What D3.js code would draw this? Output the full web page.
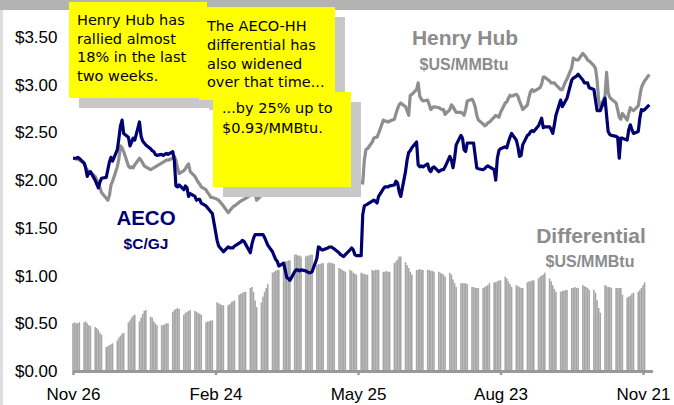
<!DOCTYPE html>
<html>
<head>
<meta charset="utf-8">
<script src="https://cdn.jsdelivr.net/npm/d3@7"></script>
<style>
  body { margin: 0; background: #fff; }
  svg { display: block; }
  .axis text { font-family: "Liberation Sans", Arial, sans-serif; font-size: 17px; fill: #000; }
  .label { font-family: "Liberation Sans", Arial, sans-serif; font-weight: bold; text-anchor: middle; }
  .note text { font-family: "DejaVu Sans", sans-serif; font-size: 14.5px; fill: #000; }
</style>
</head>
<body>
<div id="chart"></div>
<script>
// x ticks (days from the first date) and their labels
const tickDays   = [0, 90, 180, 270, 360];
const tickLabels = ['Nov 26', 'Feb 24', 'May 25', 'Aug 23', 'Nov 21'];
const yTicks     = [0, 0.5, 1, 1.5, 2, 2.5, 3, 3.5];

// AECO, $C/GJ - one row per trading week (Mon..Fri)
const aeco = [
  2.23, 2.23, 2.23, 2.24, 2.23,
  2.18, 2.13, 2.04, 2.08, 2.09,
  2.00, 1.96, 1.92, 1.98, 2.02,
  2.03, 2.11, 2.19, 2.24, 2.20,
  2.32, 2.44, 2.57, 2.63, 2.49,
  2.45, 2.36, 2.40, 2.44, 2.42,
  2.61, 2.46, 2.41, 2.39, 2.37,
  2.33, 2.31, 2.30, 2.27, 2.26,
  2.27, 2.26, 2.27, 2.28, 2.27,
  2.30, 2.21, 1.94, 1.93, 1.95,
  1.90, 1.94, 1.92, 1.83, 1.86,
  1.83, 1.79, 1.80, 1.80, 1.76,
  1.73, 1.71, 1.69, 1.67, 1.65,
  1.37, 1.31, 1.29, 1.27, 1.25,
  1.30, 1.29, 1.29, 1.29, 1.31,
  1.34, 1.35, 1.37, 1.36, 1.33,
  1.24, 1.33, 1.39, 1.43, 1.43,
  1.43, 1.43, 1.40, 1.36, 1.32,
  1.25, 1.21, 1.17, 1.15, 1.10,
  1.13, 1.06, 0.98, 0.97, 0.95,
  1.04, 1.06, 1.06, 1.05, 1.06,
  1.05, 1.04, 1.03, 1.03, 1.04,
  1.18, 1.30, 1.29, 1.27, 1.27,
  1.29, 1.30, 1.30, 1.29, 1.28,
  1.24, 1.22, 1.21, 1.20, 1.22,
  1.27, 1.29, 1.27, 1.22, 1.21,
  1.21, 1.64, 1.73, 1.74, 1.75,
  1.78, 1.79, 1.78, 1.76, 1.83,
  1.91, 1.93, 1.93, 1.93, 1.94,
  1.95, 1.99, 1.97, 1.88, 1.83,
  2.09, 2.21, 2.29, 2.31, 2.34,
  2.40, 2.16, 2.14, 2.15, 2.14,
  2.17, 2.11, 2.09, 2.13, 2.14,
  2.09, 2.10, 2.11, 2.11, 2.14,
  2.25, 2.21, 2.13, 2.23, 2.37,
  2.47, 2.44, 2.32, 2.30, 2.39,
  2.39, 2.39, 2.26, 2.13, 2.12,
  2.11, 2.12, 2.14, 2.15, 2.14,
  2.11, 2.00, 2.23, 2.31, 2.33,
  2.35, 2.34, 2.40, 2.45, 2.49,
  2.42, 2.35, 2.25, 2.26, 2.37,
  2.47, 2.48, 2.51, 2.52, 2.51,
  2.57, 2.61, 2.65, 2.55, 2.56,
  2.56, 2.53, 2.49, 2.58, 2.68,
  2.84, 2.77, 2.80, 2.83, 2.86,
  3.05, 3.07, 3.08, 3.09, 3.11,
  3.05, 3.02, 3.02, 3.02, 2.97,
  2.95, 2.84, 2.73, 2.73, 2.73,
  2.86, 2.68, 2.51, 2.48, 2.47,
  2.46, 2.45, 2.23, 2.44, 2.44,
  2.42, 2.53, 2.58, 2.53, 2.49,
  2.51, 2.65, 2.74, 2.73, 2.74,
  2.79
];

// Henry Hub, $US/MMBtu
const henryHub = [
  2.23, 2.23, 2.22, 2.22, 2.21,
  2.18, 2.13, 2.11, 2.09, 2.08,
  2.04, 2.00, 1.97, 1.92, 1.87,
  1.81, 1.79, 1.84, 1.95, 1.99,
  2.14, 2.23, 2.36, 2.34, 2.30,
  2.15, 2.13, 2.14, 2.13, 2.16,
  2.23, 2.21, 2.18, 2.15, 2.14,
  2.11, 2.12, 2.13, 2.14, 2.15,
  2.18, 2.19, 2.20, 2.21, 2.21,
  2.23, 2.25, 2.21, 2.13, 2.07,
  2.10, 2.12, 2.15, 2.17, 2.09,
  2.04, 2.01, 1.98, 1.96, 1.93,
  1.90, 1.87, 1.85, 1.82, 1.82,
  1.80, 1.79, 1.77, 1.75, 1.73,
  1.66, 1.68, 1.70, 1.72, 1.73,
  1.77, 1.78, 1.79, 1.80, 1.81,
  1.84, 1.92, 1.91, 1.86, 1.79,
  1.84, 1.90, 1.92, 1.93, 1.94,
  2.01, 1.98, 1.96, 1.96, 1.92,
  2.02, 1.98, 1.91, 1.92, 1.90,
  2.04, 2.04, 2.03, 2.03, 2.02,
  2.01, 2.02, 2.02, 2.03, 2.03,
  2.03, 2.13, 2.13, 2.12, 2.12,
  2.14, 2.14, 2.14, 2.14, 2.13,
  2.05, 2.02, 2.00, 1.99, 1.99,
  2.05, 2.06, 2.02, 1.97, 1.95,
  1.98, 1.97, 2.21, 2.32, 2.33,
  2.40, 2.44, 2.45, 2.45, 2.49,
  2.63, 2.62, 2.62, 2.61, 2.62,
  2.64, 2.70, 2.75, 2.79, 2.81,
  2.77, 2.73, 2.68, 2.89, 2.90,
  2.95, 3.02, 2.88, 2.85, 2.83,
  2.84, 2.79, 2.74, 2.76, 2.77,
  2.76, 2.75, 2.74, 2.74, 2.69,
  2.74, 2.79, 2.77, 2.74, 2.71,
  2.71, 2.70, 2.68, 2.74, 2.83,
  2.85, 2.82, 2.77, 2.68, 2.63,
  2.59, 2.57, 2.58, 2.60, 2.61,
  2.66, 2.68, 2.67, 2.66, 2.71,
  2.81, 2.82, 2.86, 2.89, 2.88,
  2.90, 2.88, 2.83, 2.79, 2.74,
  2.79, 2.87, 2.93, 2.95, 2.93,
  2.96, 2.97, 3.01, 3.08, 3.08,
  3.04, 3.02, 3.02, 3.02, 3.00,
  2.95, 2.95, 2.99, 3.03, 3.06,
  3.18, 3.28, 3.27, 3.26, 3.26,
  3.33, 3.31, 3.29, 3.26, 3.25,
  3.20, 3.17, 3.05, 2.84, 2.76,
  2.88, 3.13, 2.92, 2.87, 2.85,
  2.81, 2.74, 2.66, 2.64, 2.70,
  2.63, 2.70, 2.76, 2.74, 2.73,
  2.78, 2.88, 2.97, 3.01, 3.04,
  3.11
];

// AECO-HH differential, $US/MMBtu
const differential = [
  0.50, 0.51, 0.50, 0.50, 0.51,
  0.51, 0.52, 0.50, 0.48, 0.47,
  0.46, 0.45, 0.43, 0.40, 0.38,
  0.25, 0.26, 0.27, 0.28, 0.29,
  0.32, 0.35, 0.37, 0.39, 0.40,
  0.51, 0.53, 0.56, 0.58, 0.59,
  0.52, 0.56, 0.60, 0.63, 0.64,
  0.57, 0.56, 0.52, 0.50, 0.48,
  0.48, 0.48, 0.49, 0.50, 0.50,
  0.62, 0.64, 0.65, 0.66, 0.65,
  0.59, 0.61, 0.62, 0.63, 0.64,
  0.63, 0.62, 0.61, 0.60, 0.59,
  0.51, 0.52, 0.52, 0.53, 0.53,
  0.72, 0.71, 0.70, 0.69, 0.69,
  0.69, 0.70, 0.72, 0.73, 0.74,
  0.80, 0.81, 0.82, 0.83, 0.83,
  0.87, 0.88, 0.83, 0.74, 0.67,
  0.72, 0.78, 0.83, 0.87, 0.91,
  1.03, 1.04, 1.05, 1.06, 1.06,
  1.14, 1.15, 1.15, 1.16, 1.16,
  1.22, 1.22, 1.21, 1.21, 1.20,
  1.20, 1.21, 1.21, 1.22, 1.22,
  1.11, 1.12, 1.12, 1.13, 1.13,
  1.13, 1.14, 1.13, 1.13, 1.12,
  1.08, 1.07, 1.06, 1.05, 1.04,
  1.06, 1.05, 1.03, 1.02, 1.01,
  1.03, 1.02, 1.02, 1.01, 1.01,
  1.06, 1.05, 1.06, 1.06, 1.06,
  1.04, 1.04, 1.05, 1.04, 1.04,
  1.13, 1.15, 1.17, 1.20, 1.20,
  1.14, 1.11, 1.08, 1.04, 1.01,
  1.06, 1.06, 1.07, 1.06, 1.06,
  1.06, 1.06, 1.05, 1.05, 1.04,
  1.04, 1.03, 1.02, 1.01, 0.99,
  1.03, 1.01, 0.96, 0.92, 0.88,
  0.92, 0.92, 0.92, 0.92, 0.91,
  0.88, 0.88, 0.87, 0.87, 0.87,
  0.87, 0.88, 0.89, 0.90, 0.92,
  0.93, 0.93, 0.94, 0.95, 0.95,
  0.99, 0.97, 0.94, 0.91, 0.88,
  0.90, 0.89, 0.88, 0.87, 0.87,
  0.93, 0.94, 0.94, 0.95, 0.95,
  0.97, 0.99, 1.00, 1.01, 1.03,
  0.97, 0.94, 0.90, 0.86, 0.83,
  0.83, 0.84, 0.84, 0.85, 0.85,
  0.87, 0.87, 0.88, 0.87, 0.87,
  0.90, 0.89, 0.88, 0.87, 0.85,
  0.85, 0.82, 0.74, 0.66, 0.61,
  0.90, 0.89, 0.88, 0.88, 0.87,
  0.87, 0.87, 0.87, 0.87, 0.80,
  0.77, 0.78, 0.79, 0.81, 0.82,
  0.83, 0.85, 0.87, 0.90, 0.93
];

// trading days (weekdays) as day offsets from the first date
const tradeDays = [];
for (let w = 0; w <= 52; w++) {
  for (let k = 0; k < 5; k++) {
    const d = 7 * w + k;
    if (d <= 364) tradeDays.push(d);
  }
}

const width = 674, height = 405;

const svg = d3.select('#chart').append('svg')
  .attr('width', width)
  .attr('height', height);

// slide frame
svg.append('rect').attr('x', 0).attr('y', 0).attr('width', width).attr('height', height).attr('fill', '#fff');
svg.append('rect').attr('x', 0).attr('y', 0).attr('width', 3).attr('height', height).attr('fill', '#dedede');
svg.append('rect').attr('x', 0).attr('y', 0).attr('width', width).attr('height', 10).attr('fill', '#b3b3b3');

const x = d3.scaleLinear().domain([0, 366]).range([73, 652.5]);
const y = d3.scaleLinear().domain([0, 3.5]).range([371, 37.1]);

// 1) differential bars
const barW = x(1) - x(0);
svg.append('g')
  .selectAll('rect')
  .data(differential)
  .join('rect')
    .attr('x', (d, i) => x(tradeDays[i]) - barW / 2)
    .attr('y', d => y(d))
    .attr('width', barW)
    .attr('height', d => y(0) - y(d))
    .attr('fill', '#a6a6a6');

// 2) price lines
const line = d3.line()
  .x((d, i) => x(tradeDays[i]))
  .y(d => y(d));

svg.append('path')
  .datum(henryHub)
  .attr('fill', 'none')
  .attr('stroke', '#8e8e8e')
  .attr('stroke-width', 3.2)
  .attr('stroke-linejoin', 'round')
  .attr('d', line);

svg.append('path')
  .datum(aeco)
  .attr('fill', 'none')
  .attr('stroke', '#000070')
  .attr('stroke-width', 3.2)
  .attr('stroke-linejoin', 'round')
  .attr('d', line);

// 3) axes
const xAxis = svg.append('g')
  .attr('class', 'axis')
  .attr('transform', `translate(0,${y(0)})`)
  .call(d3.axisBottom(x)
    .tickValues(tickDays)
    .tickFormat((d, i) => tickLabels[i])
    .tickSize(4)
    .tickSizeOuter(0)
    .tickPadding(12.5));
xAxis.select('.domain').attr('stroke', '#999').attr('stroke-width', 3);
xAxis.selectAll('.tick line').attr('stroke', '#999').attr('stroke-width', 2.5);

const yAxis = svg.append('g')
  .attr('class', 'axis')
  .attr('transform', `translate(${x(0)},0)`)
  .call(d3.axisLeft(y)
    .tickValues(yTicks)
    .tickFormat(d => '$' + d.toFixed(2))
    .tickSize(0)
    .tickPadding(15.5));
yAxis.select('.domain').remove();

// 4) series labels
function label(text, cx, by, size, color) {
  svg.append('text')
    .attr('class', 'label')
    .attr('x', cx)
    .attr('y', by)
    .style('font-size', size + 'px')
    .attr('fill', color)
    .text(text);
}
label('Henry Hub', 465, 45, 21, '#8c8c8c');
label('$US/MMBtu', 464, 70, 16, '#8c8c8c');
label('AECO', 146, 225, 20.5, '#000070');
label('$C/GJ', 146, 249, 15.5, '#000070');
label('Differential', 591, 243, 21, '#8c8c8c');
label('$US/MMBtu', 590, 267, 16, '#8c8c8c');

// 5) yellow callouts with drop shadows
function note(bx, by, bw, bh, lines, tx, ty, lh) {
  const g = svg.append('g').attr('class', 'note');
  g.append('rect')
    .attr('x', bx + 10).attr('y', by + 10)
    .attr('width', bw).attr('height', bh)
    .attr('fill', '#c8c8c8');
  g.append('rect')
    .attr('x', bx).attr('y', by)
    .attr('width', bw).attr('height', bh)
    .attr('fill', '#ffff00');
  g.append('text')
    .selectAll('tspan')
    .data(lines)
    .join('tspan')
      .attr('x', tx)
      .attr('y', (d, i) => ty + i * lh)
      .text(d => d);
}
note(69, 2, 138, 96, ['Henry Hub has', 'rallied almost', '18% in the last', 'two weeks.'], 77, 25, 18.7);
note(199, 7, 136, 93, ['The AECO-HH', 'differential has', 'also widened', 'over that time...'], 207, 30.7, 18.9);
note(213, 92, 138, 95, ['...by 25% up to', '$0.93/MMBtu.'], 222, 113.3, 19.4);
</script>
</body>
</html>
